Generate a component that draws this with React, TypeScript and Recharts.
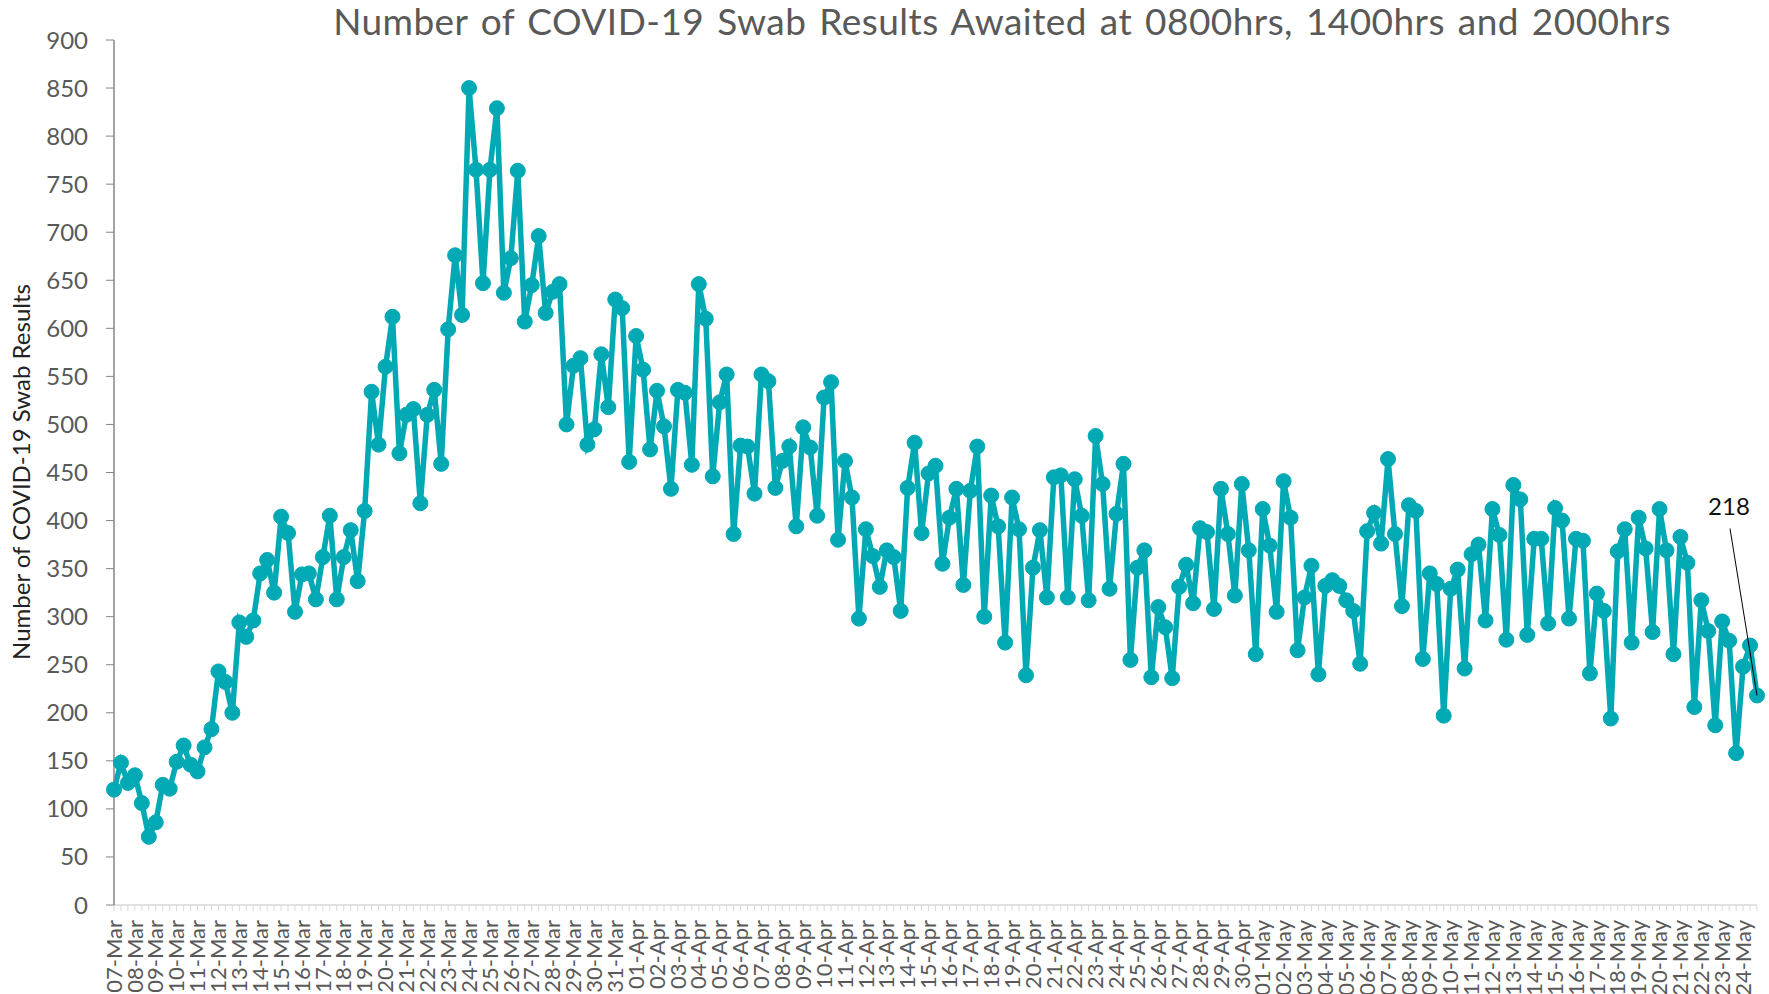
import { LineChart, Line, XAxis, YAxis, LabelList } from "recharts"

// one label per day, three readings per day (0800, 1400, 2000)
const days = [
  "07-Mar", "08-Mar", "09-Mar", "10-Mar", "11-Mar", "12-Mar", "13-Mar", "14-Mar", "15-Mar", "16-Mar",
  "17-Mar", "18-Mar", "19-Mar", "20-Mar", "21-Mar", "22-Mar", "23-Mar", "24-Mar", "25-Mar", "26-Mar",
  "27-Mar", "28-Mar", "29-Mar", "30-Mar", "31-Mar",
  "01-Apr", "02-Apr", "03-Apr", "04-Apr", "05-Apr", "06-Apr", "07-Apr", "08-Apr", "09-Apr", "10-Apr",
  "11-Apr", "12-Apr", "13-Apr", "14-Apr", "15-Apr", "16-Apr", "17-Apr", "18-Apr", "19-Apr", "20-Apr",
  "21-Apr", "22-Apr", "23-Apr", "24-Apr", "25-Apr", "26-Apr", "27-Apr", "28-Apr", "29-Apr", "30-Apr",
  "01-May", "02-May", "03-May", "04-May", "05-May", "06-May", "07-May", "08-May", "09-May", "10-May",
  "11-May", "12-May", "13-May", "14-May", "15-May", "16-May", "17-May", "18-May", "19-May", "20-May",
  "21-May", "22-May", "23-May", "24-May",
]

const awaited = [
  120, 148, 127, 135, 106, 71, 86, 125, 121, 149, 166, 146, 139, 164, 183, 243, 232, 200,
  294, 279, 296, 345, 359, 325, 404, 387, 305, 344, 345, 318, 362, 405, 318, 362, 390, 337,
  410, 534, 479, 560, 612, 470, 510, 516, 418, 510, 536, 459, 599, 676, 614, 850, 765, 647,
  765, 829, 637, 673, 764, 607, 645, 696, 616, 638, 646, 500, 561, 569, 479, 495, 573, 518,
  630, 621, 461, 592, 557, 474, 535, 498, 433, 536, 533, 458, 646, 610, 446, 523, 552, 386,
  478, 477, 428, 552, 545, 434, 462, 477, 394, 497, 476, 405, 528, 544, 380, 462, 424, 298,
  391, 363, 331, 369, 362, 306, 434, 481, 387, 449, 457, 355, 403, 433, 333, 431, 477, 300,
  426, 394, 273, 424, 391, 239, 351, 390, 320, 445, 447, 320, 443, 405, 317, 488, 438, 329,
  407, 459, 255, 351, 369, 237, 310, 289, 236, 331, 354, 314, 392, 388, 308, 433, 386, 322,
  438, 369, 261, 412, 374, 305, 441, 403, 265, 320, 353, 240, 332, 338, 332, 317, 306, 251,
  389, 408, 376, 464, 386, 311, 416, 410, 256, 345, 334, 197, 329, 349, 246, 365, 375, 296,
  412, 385, 276, 437, 422, 281, 381, 381, 293, 413, 400, 298, 381, 379, 241, 324, 306, 194,
  368, 391, 273, 403, 371, 284, 412, 369, 261, 383, 356, 206, 317, 285, 187, 295, 275, 158,
  248, 270, 218,
]

const yTicks = [0, 50, 100, 150, 200, 250, 300, 350, 400, 450, 500, 550, 600, 650, 700, 750, 800, 850, 900]

const TEAL = "#00A9B4"
const GREY = "#595959"
const FONT = "Lato, 'Open Sans', sans-serif"

const data = awaited.map((v, i) => ({ slot: i, awaited: v }))

function DayTick(props: any) {
  const { x, y, payload } = props
  const i = Number(payload.value)
  if (i % 3 !== 0) return <g />
  return (
    <text
      x={x}
      y={y}
      dy="0.35em"
      transform={`rotate(-90 ${x} ${y})`}
      textAnchor="end"
      fill={GREY}
      fontSize={22}
      fontFamily={FONT}
    >
      {days[i / 3]}
    </text>
  )
}

function EndLabel(props: any) {
  const { x, y, value, index } = props
  if (index !== awaited.length - 1) return null
  return (
    <g>
      <line x1={x - 27} y1={y - 167} x2={x} y2={y} stroke="#000" strokeWidth={1} />
      <text x={x - 28} y={y - 180} textAnchor="middle" fill="#111" fontSize={24} fontFamily={FONT}>
        {value}
      </text>
    </g>
  )
}

export default function App() {
  return (
    <div style={{ position: "absolute", left: 0, top: 0, width: 1769, height: 994, background: "#fff" }}>
      <div
        style={{
          position: "absolute",
          left: 0,
          width: 2004,
          top: -2,
          height: 46,
          lineHeight: "46px",
          textAlign: "center",
          fontFamily: FONT,
          fontSize: 37,
          letterSpacing: 0.45,
          wordSpacing: 3,
          color: GREY,
          whiteSpace: "nowrap",
        }}
      >
        Number of COVID-19 Swab Results Awaited at 0800hrs, 1400hrs and 2000hrs
      </div>
      <div
        style={{
          position: "absolute",
          left: 20,
          top: 472,
          transform: "translate(-50%, -50%) rotate(-90deg)",
          fontFamily: FONT,
          fontSize: 24,
          color: "#222",
          whiteSpace: "nowrap",
        }}
      >
        Number of COVID-19 Swab Results
      </div>
      <LineChart width={1769} height={994} data={data} margin={{ top: 40, right: 12, bottom: 1, left: 14 }}>
        <XAxis
          dataKey="slot"
          type="category"
          interval={0}
          height={88}
          tick={DayTick}
          tickSize={6}
          tickMargin={9}
          axisLine={{ stroke: "#D9D9D9", strokeWidth: 1.5 }}
          tickLine={{ stroke: "#D9D9D9" }}
        />
        <YAxis
          domain={[0, 900]}
          ticks={yTicks}
          interval={0}
          width={100}
          tickSize={8}
          tickMargin={18}
          axisLine={{ stroke: "#868686", strokeWidth: 1.5 }}
          tickLine={{ stroke: "#868686" }}
          tick={{ fill: GREY, fontSize: 24, fontFamily: FONT }}
        />
        <Line
          type="linear"
          dataKey="awaited"
          stroke={TEAL}
          strokeWidth={5.5}
          dot={{ r: 7.5, fill: TEAL, stroke: TEAL, strokeWidth: 1 }}
          activeDot={false}
          isAnimationActive={false}
        >
          <LabelList dataKey="awaited" content={EndLabel} />
        </Line>
      </LineChart>
    </div>
  )
}
